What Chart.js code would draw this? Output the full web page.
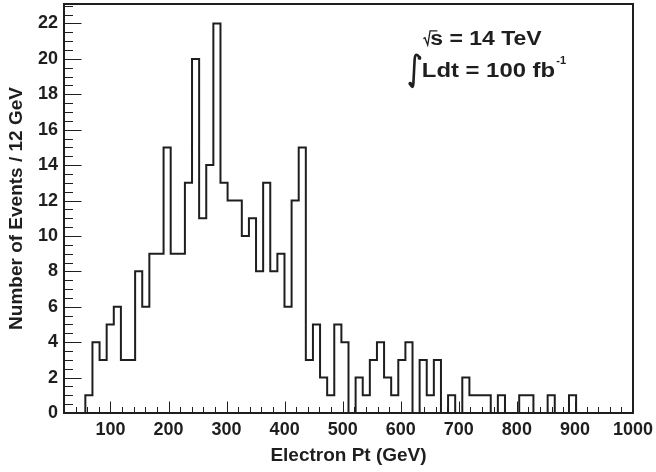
<!DOCTYPE html>
<html>
<head>
<meta charset="utf-8">
<script src="https://cdn.jsdelivr.net/npm/chart.js@4.4.1/dist/chart.umd.min.js"></script>
<style>
  html, body { margin: 0; padding: 0; background: #fff; }
</style>
</head>
<body>
<canvas id="histo" width="656" height="472"></canvas>
<script>
// histogram: 80 bins between 20 and 1000 GeV
const histMin = 20;
const histMax = 1000;
const binWidth = 12.25;
const counts = [
  0, 0, 0,
  1, 4, 3, 5, 6, 3, 3, 8, 6, 9,
  9, 15, 9, 9, 13, 20, 11, 14, 22, 13,
  12, 12, 10, 11, 8, 13, 8, 9, 6, 12,
  15, 3, 5, 2, 1, 5, 4, 0, 2, 1,
  3, 4, 2, 1, 3, 4, 0, 3, 1, 3,
  0, 1, 0, 2, 1, 1, 1, 0, 1, 0,
  0, 1, 1, 0, 0, 1, 0, 0, 1,
  0, 0, 0, 0, 0, 0, 0, 0
];
const xTickLabels = [100, 200, 300, 400, 500, 600, 700, 800, 900, 1000];
const yTickLabels = [0, 2, 4, 6, 8, 10, 12, 14, 16, 18, 20, 22];
const yMax = 23.1;

// text block position (in axis units)
const labelAtX = 639;
const labelRows = [20.78, 18.99];

const ink = '#1e1e1e';
const fontFam = '"Liberation Sans", Arial, Helvetica, sans-serif';

let points = counts.map((c, i) => ({ x: histMin + i * binWidth, y: c }));
points.push({ x: histMax, y: counts[counts.length - 1] });

function fitText(ctx, text, x, y, width) {
  let w = ctx.measureText(text).width;
  ctx.save();
  ctx.translate(x, y);
  ctx.scale(width / w, 1);
  ctx.fillText(text, 0, 0);
  ctx.restore();
}

const frameTicks = {
  id: 'frameTicks',
  afterDatasetsDraw(chart) {
    const { ctx, chartArea: a, scales: { x, y } } = chart;
    ctx.save();
    ctx.strokeStyle = ink;
    ctx.lineWidth = 1;
    ctx.beginPath();
    for (let v = histMin; v <= histMax; v += 20) {
      let len = xTickLabels.includes(v) ? 11.5 : 6;
      let px = Math.round(x.getPixelForValue(v)) + 0.5;
      ctx.moveTo(px, a.bottom);
      ctx.lineTo(px, a.bottom - len);
    }
    for (let v = 0; v <= yMax; v += 0.5) {
      let len = yTickLabels.includes(v) ? 17.5 : 9;
      let py = Math.round(y.getPixelForValue(v)) + 0.5;
      ctx.moveTo(a.left, py);
      ctx.lineTo(a.left + len, py);
    }
    ctx.stroke();
    ctx.lineWidth = 2;
    ctx.strokeRect(a.left, a.top, a.right - a.left, a.bottom - a.top);
    ctx.restore();
  }
};

const energyLabel = {
  id: 'energyLabel',
  afterDraw(chart) {
    const { ctx, scales: { x, y } } = chart;
    const ax = x.getPixelForValue(labelAtX);
    const b1 = y.getPixelForValue(labelRows[0]);
    const b2 = y.getPixelForValue(labelRows[1]);
    ctx.save();
    ctx.fillStyle = ink;
    ctx.strokeStyle = ink;
    ctx.textBaseline = 'alphabetic';
    ctx.font = 'bold 20px ' + fontFam;

    // sqrt sign
    ctx.lineWidth = 1.3;
    ctx.beginPath();
    ctx.moveTo(ax, b1 - 6.5);
    ctx.lineTo(ax + 1.5, b1 - 7.3);
    ctx.lineTo(ax + 4.3, b1);
    ctx.lineTo(ax + 6.7, b1 - 14.3);
    ctx.lineTo(ax + 14, b1 - 14.3);
    ctx.stroke();
    fitText(ctx, 's = 14 TeV', ax + 6.8, b1, 111.5);

    // integral sign
    const a2 = ax - 1.6;
    ctx.lineWidth = 2.6;
    ctx.lineCap = 'round';
    ctx.beginPath();
    ctx.moveTo(a2 - 2.2, b2 - 19.2);
    ctx.quadraticCurveTo(a2 - 6.7, b2 - 25.7, a2 - 7.2, b2 - 16.7);
    ctx.lineTo(a2 - 8.4, b2 + 6.3);
    ctx.quadraticCurveTo(a2 - 8.9, b2 + 13.3, a2 - 11.7, b2 + 7.3);
    ctx.stroke();
    ctx.beginPath();
    ctx.arc(a2 - 2.3, b2 - 18.8, 1.9, 0, Math.PI * 2);
    ctx.arc(a2 - 11.5, b2 + 6.8, 1.9, 0, Math.PI * 2);
    ctx.fill();

    fitText(ctx, 'Ldt = 100 fb', a2, b2, 133.3);
    ctx.font = 'bold 11px ' + fontFam;
    ctx.fillText('-1', a2 + 134.5, b2 - 12.7);
    ctx.restore();
  }
};

const ctx = document.getElementById('histo');

new Chart(ctx, {
  type: 'line',
  data: {
    datasets: [{
      data: points,
      stepped: 'before',
      borderColor: ink,
      borderWidth: 2,
      pointRadius: 0,
      fill: false,
      tension: 0
    }]
  },
  options: {
    responsive: false,
    animation: false,
    layout: { padding: { top: 4, right: 23, left: 0, bottom: 0 } },
    plugins: {
      legend: { display: false },
      tooltip: { enabled: false }
    },
    scales: {
      x: {
        type: 'linear',
        min: histMin,
        max: histMax,
        afterBuildTicks: s => { s.ticks = xTickLabels.map(v => ({ value: v })); },
        afterFit: s => {
          s.height = 59;
          s.paddingLeft = 0;
          s.paddingRight = 0;
        },
        grid: { display: false, drawTicks: false },
        border: { display: false },
        ticks: {
          color: ink,
          padding: 6,
          maxRotation: 0,
          autoSkip: false,
          font: { family: fontFam, size: 18, weight: 'bold' },
          callback: v => String(v)
        },
        title: {
          display: true,
          text: 'Electron Pt (GeV)',
          color: ink,
          padding: { top: 0, bottom: 5 },
          font: { family: fontFam, size: 19, weight: 'bold' }
        }
      },
      y: {
        min: 0,
        max: yMax,
        afterBuildTicks: s => { s.ticks = yTickLabels.map(v => ({ value: v })); },
        afterFit: s => {
          s.width = 64;
          s.paddingTop = 0;
          s.paddingBottom = 0;
        },
        grid: { display: false, drawTicks: false },
        border: { display: false },
        ticks: {
          color: ink,
          padding: 6,
          autoSkip: false,
          font: { family: fontFam, size: 18, weight: 'bold' },
          callback: v => String(v)
        },
        title: {
          display: true,
          text: 'Number of Events / 12 GeV',
          color: ink,
          padding: { top: 5, bottom: 0 },
          font: { family: fontFam, size: 19, weight: 'bold' }
        }
      }
    }
  },
  plugins: [frameTicks, energyLabel]
});
</script>
</body>
</html>
